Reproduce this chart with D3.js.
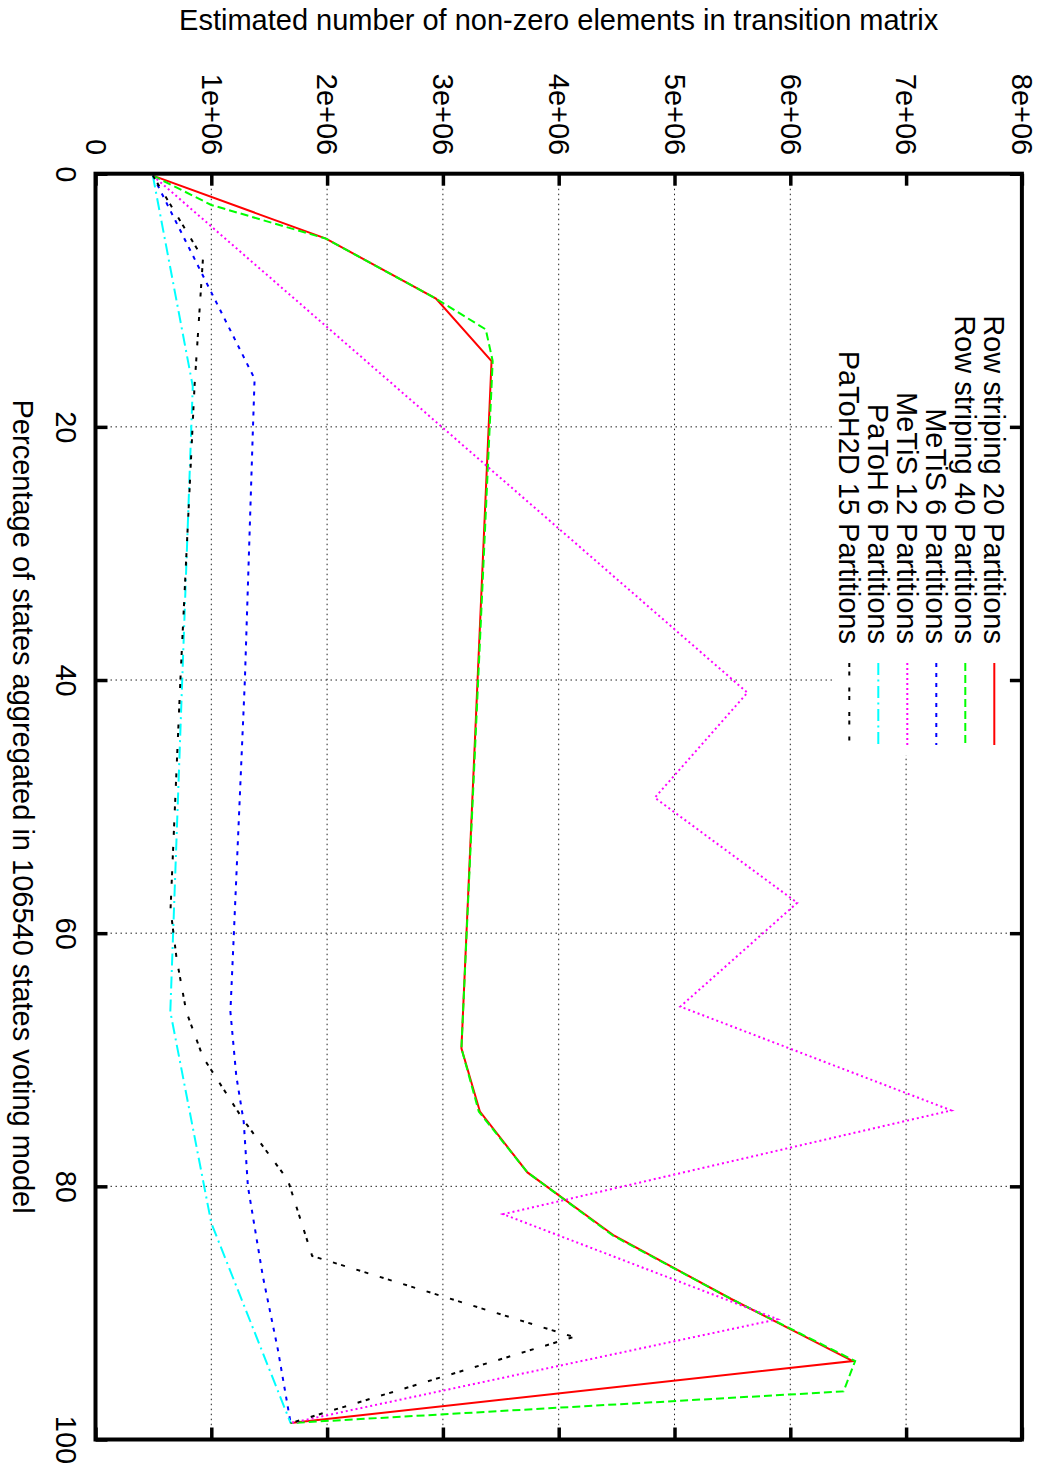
<!DOCTYPE html>
<html>
<head>
<meta charset="utf-8">
<script src="https://cdn.jsdelivr.net/npm/d3@7"></script>
<style>
  body { margin: 0; background: #fff; }
  svg text { font-family: "Liberation Sans", Arial, sans-serif; font-size: 29px; fill: #000; }
</style>
</head>
<body>
<div id="chart"></div>
<script>
// Data: [percentage of states aggregated, non-zero elements]
var rowStriping20 = [[0.15, 495000], [5.13, 1990000], [9.87, 2940000], [14.8, 3420000],
    [69.1, 3160000], [74.1, 3320000], [78.9, 3730000], [83.9, 4480000], [88.9, 5490000],
    [93.8, 6540000], [98.7, 1685000]];
var rowStriping40 = [[0.15, 495000], [2.47, 1000000], [5.13, 1990000], [9.87, 2940000],
    [12.3, 3370000], [14.8, 3430000], [69.1, 3160000], [74.1, 3310000], [78.9, 3730000],
    [83.9, 4470000], [88.9, 5490000], [93.8, 6560000], [96.2, 6460000], [98.7, 1685000]];
var metis6 = [[0.15, 495000], [16.2, 1374000], [20, 1360000], [40, 1290000], [60, 1195000],
    [66.2, 1165000], [71.3, 1216000], [74.9, 1280000], [80, 1316000], [87.1, 1445000],
    [92.9, 1575000], [98.7, 1685000]];
var metis12 = [[0.15, 495000], [41.0, 5630000], [49.3, 4830000], [57.6, 6060000],
    [65.8, 5050000], [74.0, 7390000], [82.2, 3520000], [90.5, 5890000], [98.7, 1685000]];
var patoh6 = [[0.15, 495000], [16.8, 840000], [66.2, 646000], [82.9, 1000000], [98.7, 1685000]];
var patoh2d15 = [[0.15, 495000], [6.7, 928000], [16.8, 855000], [40, 733000], [58.1, 648000],
    [62, 700000], [66.2, 784000], [69.8, 928000], [74.7, 1273000], [79.5, 1661000],
    [85.5, 1871000], [91.9, 4130000], [98.7, 1685000]];

var seriesNames = ["Row striping 20 Partitions", "Row striping 40 Partitions", "MeTiS 6 Partitions",
    "MeTiS 12 Partitions", "PaToH 6 Partitions", "PaToH2D 15 Partitions"];
var seriesColors = ["#ff0000", "#00ff00", "#0000ff", "#ff00ff", "#00ffff", "#000000"];
var seriesDashes = ["none", "8,4", "4,6", "2,3", "12,4.5,2,4.5", "4,4.5,4,12"];

var valueTicks = [0, 1e6, 2e6, 3e6, 4e6, 5e6, 6e6, 7e6, 8e6];
var valueTickLabels = ["0", "1e+06", "2e+06", "3e+06", "4e+06", "5e+06", "6e+06", "7e+06", "8e+06"];
var pctTicks = [0, 20, 40, 60, 80, 100];

var allSeries = [rowStriping20, rowStriping40, metis6, metis12, patoh6, patoh2d15];

// page size and plot frame
var w = 1047, h = 1474;
var plotLeft = 95.5, plotRight = 1021.9, plotTop = 173.7, plotBottom = 1439.5;
var fontSize = "29px";

var svg = d3.select("#chart").append("svg")
    .attr("width", w)
    .attr("height", h);

// the plot is drawn turned a quarter: values run left to right, percentages top to bottom
var xScale = d3.scaleLinear().domain([0, 8e6]).range([plotLeft, plotRight]);
var yScale = d3.scaleLinear().domain([0, 100]).range([plotTop, plotBottom]);

// grid lines
var grid = svg.append("g")
    .attr("stroke", "#222")
    .attr("stroke-width", 1)
    .attr("stroke-dasharray", "1.5,3.5");
grid.selectAll("line.gx")
    .data(valueTicks.slice(1, -1))
    .enter().append("line")
    .attr("x1", d => xScale(d)).attr("x2", d => xScale(d))
    .attr("y1", plotTop).attr("y2", plotBottom);
grid.selectAll("line.gy")
    .data(pctTicks.slice(1, -1))
    .enter().append("line")
    .attr("y1", d => yScale(d)).attr("y2", d => yScale(d))
    .attr("x1", plotLeft).attr("x2", plotRight);

// key box hides the grid behind it
svg.append("rect")
    .attr("x", 835).attr("y", plotTop + 2)
    .attr("width", plotRight - 835).attr("height", 755 - plotTop - 2)
    .attr("fill", "#fff");

// data lines
var line = d3.line()
    .x(d => xScale(d[1]))
    .y(d => yScale(d[0]));

svg.selectAll("path.series")
    .data(allSeries)
    .enter().append("path")
    .attr("class", "series")
    .attr("d", d => line(d))
    .attr("fill", "none")
    .attr("stroke", (d, i) => seriesColors[i])
    .attr("stroke-width", 2)
    .attr("stroke-dasharray", (d, i) => seriesDashes[i]);

// axes, ticks pointing inward on all four sides
function styleAxis(g) {
    g.select(".domain").remove();
    g.selectAll(".tick line").attr("stroke", "#000").attr("stroke-width", 3.5);
}

var topAxis = svg.append("g")
    .attr("transform", `translate(0,${plotTop})`)
    .call(d3.axisTop(xScale).tickValues(valueTicks).tickSize(-12)
        .tickFormat((d, i) => valueTickLabels[i]))
    .call(styleAxis);
topAxis.selectAll("text")
    .attr("x", -18.5).attr("y", 0).attr("dy", "0.35em")
    .attr("transform", "rotate(90)")
    .style("text-anchor", "end")
    .style("font-size", fontSize)
    .style("font-family", "'Liberation Sans', Arial, sans-serif");

svg.append("g")
    .attr("transform", `translate(0,${plotBottom})`)
    .call(d3.axisBottom(xScale).tickValues(valueTicks).tickSize(-12).tickFormat(""))
    .call(styleAxis);

var leftAxis = svg.append("g")
    .attr("transform", `translate(${plotLeft},0)`)
    .call(d3.axisLeft(yScale).tickValues(pctTicks).tickSize(-12))
    .call(styleAxis);
leftAxis.selectAll("text")
    .attr("x", 0).attr("y", 29.5).attr("dy", "0.35em")
    .attr("transform", "rotate(90)")
    .style("text-anchor", "middle")
    .style("font-size", fontSize)
    .style("font-family", "'Liberation Sans', Arial, sans-serif");

svg.append("g")
    .attr("transform", `translate(${plotRight},0)`)
    .call(d3.axisRight(yScale).tickValues(pctTicks).tickSize(-12).tickFormat(""))
    .call(styleAxis);

// border
svg.append("rect")
    .attr("x", plotLeft).attr("y", plotTop)
    .attr("width", plotRight - plotLeft).attr("height", plotBottom - plotTop)
    .attr("fill", "none")
    .attr("stroke", "#000")
    .attr("stroke-width", 4);

// axis titles
svg.append("text")
    .attr("x", (plotLeft + plotRight) / 2).attr("y", 29.5)
    .attr("text-anchor", "middle")
    .text("Estimated number of non-zero elements in transition matrix");

svg.append("text")
    .attr("transform", `translate(23.5,${(plotTop + plotBottom) / 2}) rotate(90)`)
    .attr("dy", "0.35em")
    .attr("text-anchor", "middle")
    .text("Percentage of states aggregated in 106540 states voting model");

// key
var key = svg.append("g");
seriesNames.forEach(function(name, i) {
    var kx = 994.3 - i * 29;
    key.append("text")
        .attr("transform", `translate(${kx},644) rotate(90)`)
        .attr("dy", "0.35em")
        .attr("text-anchor", "end")
        .text(name);
    key.append("line")
        .attr("x1", kx).attr("x2", kx)
        .attr("y1", 663).attr("y2", 745)
        .attr("stroke", seriesColors[i])
        .attr("stroke-width", 2)
        .attr("stroke-dasharray", seriesDashes[i]);
});
</script>
</body>
</html>
